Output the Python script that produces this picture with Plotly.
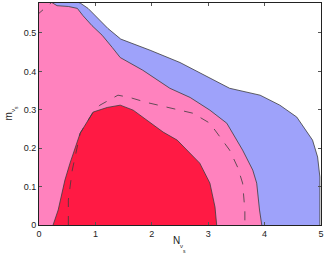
import plotly.graph_objects as go

# Contour boundaries (N_nu_s, m_nu_s)
blue_n = [0.30, 0.73, 0.87, 1.05, 1.22, 1.45, 1.97, 2.50, 2.85, 3.38, 3.92, 4.27, 4.57, 4.85, 4.94, 4.98, 4.98, 4.98]
blue_m = [0.600, 0.578, 0.564, 0.538, 0.512, 0.484, 0.455, 0.423, 0.397, 0.356, 0.338, 0.312, 0.281, 0.221, 0.177, 0.125, 0.005, 0.0]

pink_n = [0.20, 0.23, 0.32, 0.52, 0.68, 0.78, 0.94, 1.12, 1.30, 1.44, 1.84, 2.32, 2.68, 3.03, 3.33, 3.61, 3.79, 3.86, 3.91, 3.95]
pink_m = [0.600, 0.579, 0.571, 0.569, 0.564, 0.545, 0.519, 0.494, 0.462, 0.436, 0.403, 0.356, 0.332, 0.299, 0.265, 0.195, 0.143, 0.109, 0.039, 0.0]

red_n = [0.25, 0.34, 0.46, 0.55, 0.73, 0.96, 1.21, 1.44, 1.67, 1.92, 2.20, 2.45, 2.62, 2.85, 3.03, 3.12, 3.15]
red_m = [0.0, 0.039, 0.117, 0.161, 0.239, 0.294, 0.306, 0.312, 0.299, 0.273, 0.242, 0.221, 0.195, 0.161, 0.109, 0.047, 0.0]

dash_in_n = [0.52, 0.52, 0.59, 0.73, 0.96, 1.08, 1.40, 1.61, 1.91, 2.27, 2.73, 3.03, 3.38, 3.52, 3.61, 3.65, 3.65]
dash_in_m = [0.0, 0.065, 0.143, 0.239, 0.294, 0.312, 0.338, 0.332, 0.319, 0.306, 0.291, 0.265, 0.195, 0.151, 0.109, 0.039, 0.0]

dash_out_n = [-0.05, 0.0, 0.12, 0.22, 0.30]
dash_out_m = [0.545, 0.551, 0.566, 0.579, 0.600]

x_ticks = [0, 1, 2, 3, 4, 5]
y_ticks = [0, 0.1, 0.2, 0.3, 0.4, 0.5]
y_ticktext = ["0", "0.1", "0.2", "0.3", "0.4", "0.5"]

BLUE = "#9ea2fa"
PINK = "#ff82be"
RED = "#ff1a44"
LINE = "#3c3c3c"
FONT = "Liberation Sans, Arial"

fig = go.Figure()

def filled(xs, ys, color, pre_x, pre_y):
    fig.add_trace(go.Scatter(x=pre_x + xs, y=pre_y + ys, fill="toself", fillcolor=color,
                             mode="lines", line=dict(width=0), hoverinfo="skip", showlegend=False))

filled(blue_n, blue_m, BLUE, [0, 0], [0, 0.65])
filled(pink_n, pink_m, PINK, [0, 0], [0, 0.65])
filled(red_n, red_m, RED, [], [])

for xs, ys, dash in [(blue_n, blue_m, "solid"), (pink_n, pink_m, "solid"), (red_n, red_m, "solid"),
                     (dash_in_n, dash_in_m, "dash"), (dash_out_n, dash_out_m, "dash")]:
    fig.add_trace(go.Scatter(x=xs, y=ys, mode="lines",
                             line=dict(color=LINE, width=0.8, dash=dash),
                             hoverinfo="skip", showlegend=False))

axis_common = dict(showline=True, linecolor="#222", linewidth=1, mirror="ticks",
                   ticks="inside", ticklen=3, tickcolor="#555", showgrid=False, zeroline=False,
                   automargin=False,
                   tickfont=dict(family=FONT, size=9, color="#222"))

fig.update_layout(
    width=327, height=255,
    margin=dict(l=39, r=6, t=3, b=30),
    plot_bgcolor="white", paper_bgcolor="white",
    xaxis=dict(range=[0, 5], tickvals=x_ticks, ticktext=[str(v) for v in x_ticks], **axis_common),
    yaxis=dict(range=[0, 0.578], tickvals=y_ticks, ticktext=y_ticktext, **axis_common),
)

# Plot area in pixels: x 39..321, y 3..225
def px(xp, yp):
    return (xp - 39) / 282.0, (225 - yp) / 222.0

def label(text, xp, yp, size, angle=0):
    x, y = px(xp, yp)
    fig.add_annotation(text=text, x=x, y=y, xref="paper", yref="paper", showarrow=False,
                       xanchor="center", yanchor="middle", textangle=angle,
                       font=dict(family=FONT, size=size, color="#222"))

label("N", 176, 241, 10)
label("ν", 181.5, 246, 6)
label("s", 184, 250.5, 5)
label("m", 8, 116.5, 10, -90)
label("ν", 12.5, 110.5, 6, -90)
label("s", 16.5, 107.5, 5, -90)

fig.write_html("out.html", config={"displayModeBar": False},
               post_script="document.body.style.margin='0';document.body.style.padding='0';")
